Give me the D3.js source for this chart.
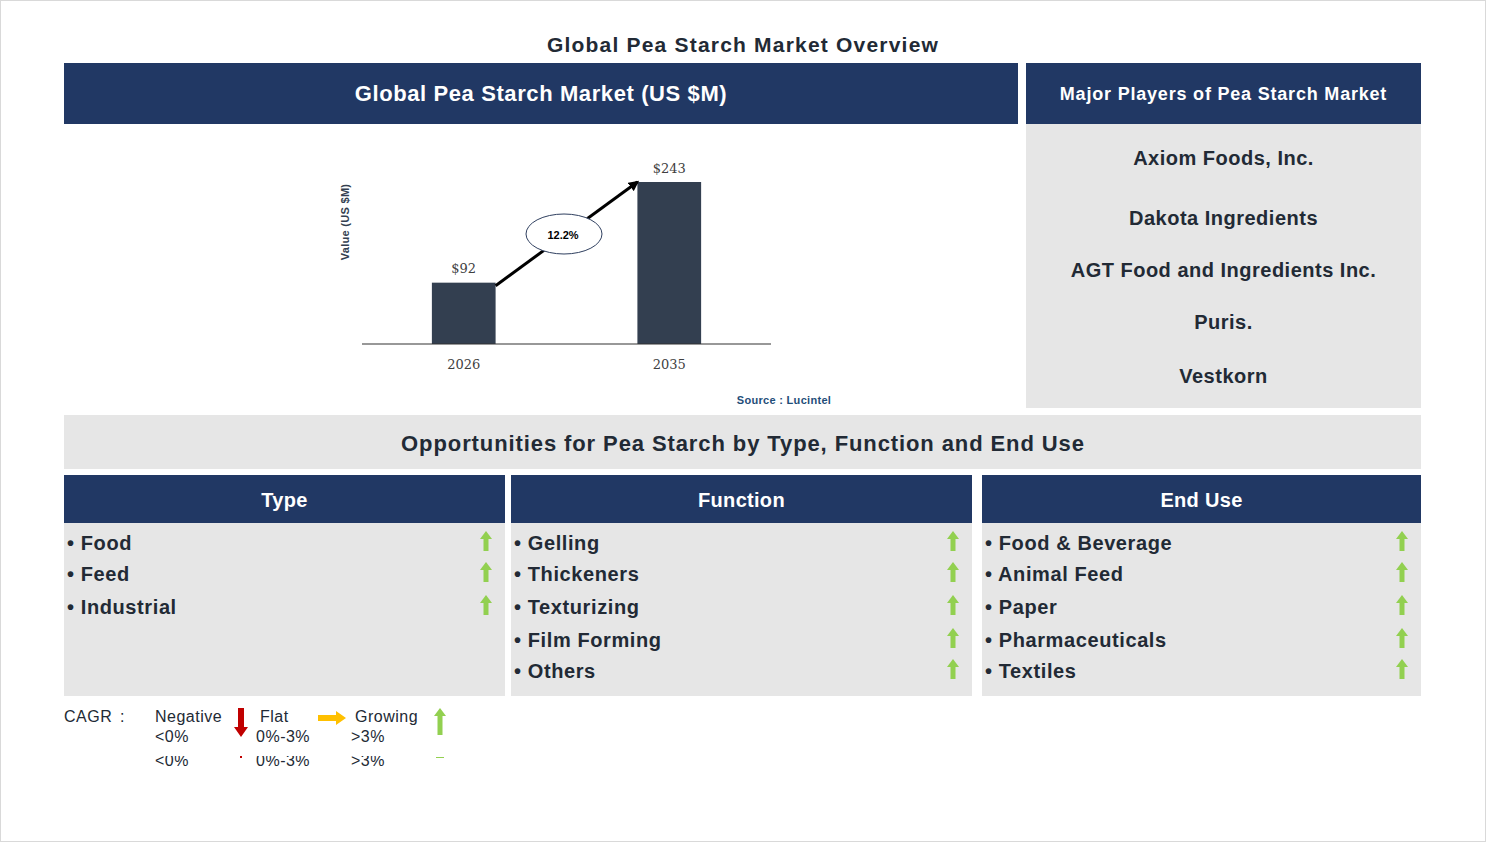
<!DOCTYPE html>
<html>
<head>
<meta charset="utf-8">
<script src="https://cdn.jsdelivr.net/npm/d3@7/dist/d3.min.js"></script>
<style>
  body { margin: 0; background: #fff; }
  svg { display: block; font-family: "Liberation Sans", Arial, sans-serif; }
</style>
</head>
<body>
<div id="chart"></div>
<script>
// chart values
const years = ['2026', '2035'];
const values = [92, 243];
const cagrLabel = '12.2%';

const players = ['Axiom Foods, Inc.', 'Dakota Ingredients', 'AGT Food and Ingredients Inc.', 'Puris.', 'Vestkorn'];

const segments = ['Type', 'Function', 'End Use'];
const typeItems = ['Food', 'Feed', 'Industrial'];
const functionItems = ['Gelling', 'Thickeners', 'Texturizing', 'Film Forming', 'Others'];
const endUseItems = ['Food & Beverage', 'Animal Feed', 'Paper', 'Pharmaceuticals', 'Textiles'];

const legendNames = ['Negative', 'Flat', 'Growing'];
const legendRanges = ['<0%', '0%-3%', '>3%'];

const W = 1486, H = 842;
const navy = '#213864';
const grey = '#e6e6e6';
const ink = '#222a35';

const svg = d3.select('#chart').append('svg')
    .attr('width', W)
    .attr('height', H);

svg.append('rect')
    .attr('x', 0.5).attr('y', 0.5)
    .attr('width', W - 1).attr('height', H - 1)
    .attr('fill', '#fff')
    .attr('stroke', '#d9d9d9');

// main title
svg.append('text')
    .attr('x', 743).attr('y', 44)
    .attr('text-anchor', 'middle')
    .attr('dominant-baseline', 'central')
    .style('font-size', '21px')
    .style('font-weight', 'bold')
    .style('letter-spacing', '1.2px')
    .attr('fill', ink)
    .text('Global Pea Starch Market Overview');

// header boxes
const header = (x, y, w, h, label, size, spacing) => {
    svg.append('rect').attr('x', x).attr('y', y).attr('width', w).attr('height', h).attr('fill', navy);
    svg.append('text')
        .attr('x', x + w / 2).attr('y', y + h / 2)
        .attr('text-anchor', 'middle')
        .attr('dominant-baseline', 'central')
        .attr('fill', '#fff')
        .style('font-size', size)
        .style('font-weight', 'bold')
        .style('letter-spacing', spacing)
        .text(label);
};
header(64, 63, 954, 61, 'Global Pea Starch Market (US $M)', '22px', '0.6px');
header(1026, 63, 395, 61, 'Major Players of Pea Starch Market', '18px', '0.8px');

// players panel
svg.append('rect').attr('x', 1026).attr('y', 124).attr('width', 395).attr('height', 284).attr('fill', grey);
const playerY = d3.scaleOrdinal().domain(players).range([158, 218, 270, 322, 376]);
svg.selectAll('.player')
    .data(players)
    .enter()
    .append('text')
    .classed('player', true)
    .attr('x', 1223.5)
    .attr('y', d => playerY(d))
    .attr('text-anchor', 'middle')
    .attr('dominant-baseline', 'central')
    .attr('fill', ink)
    .style('font-size', '20px')
    .style('font-weight', 'bold')
    .style('letter-spacing', '0.5px')
    .text(d => d);

// bar chart
const chart = svg.append('g');
const xScale = d3.scaleBand()
    .domain(years)
    .range([362, 771])
    .paddingInner(0.69)
    .paddingOuter(0.34);
const yScale = d3.scaleLinear()
    .domain([0, 243])
    .range([344, 182]);

chart.selectAll('.bar')
    .data(years)
    .enter()
    .append('rect')
    .classed('bar', true)
    .attr('x', d => xScale(d))
    .attr('y', (d, i) => yScale(values[i]))
    .attr('width', xScale.bandwidth())
    .attr('height', (d, i) => yScale(0) - yScale(values[i]))
    .attr('fill', '#333f50');

chart.selectAll('.bar-label')
    .data(years)
    .enter()
    .append('text')
    .classed('bar-label', true)
    .attr('x', d => xScale(d) + xScale.bandwidth() / 2)
    .attr('y', (d, i) => yScale(values[i]) - 14)
    .attr('text-anchor', 'middle')
    .attr('dominant-baseline', 'central')
    .attr('fill', '#404040')
    .style('font-family', '"DejaVu Serif", serif')
    .style('font-size', '13px')
    .text((d, i) => '$' + values[i]);

const xAxis = d3.axisBottom(xScale).tickSize(0).tickPadding(16);
const gx = chart.append('g')
    .attr('transform', `translate(0,${yScale(0)})`)
    .call(xAxis);
gx.select('.domain').attr('stroke', '#333').attr('stroke-width', 1.2).attr('d', 'M362,0H771');
gx.selectAll('text')
    .attr('fill', '#404040')
    .style('font-family', '"DejaVu Serif", serif')
    .style('font-size', '13px');

chart.append('text')
    .attr('transform', `translate(349,222) rotate(-90)`)
    .attr('text-anchor', 'middle')
    .attr('fill', '#333f50')
    .style('font-size', '11px')
    .style('font-weight', 'bold')
    .style('letter-spacing', '0.3px')
    .text('Value (US $M)');

// growth arrow
svg.append('defs').append('marker')
    .attr('id', 'head')
    .attr('viewBox', '0 0 10 10')
    .attr('refX', 8).attr('refY', 5)
    .attr('markerWidth', 3.5).attr('markerHeight', 3.5)
    .attr('orient', 'auto')
    .append('path')
    .attr('d', 'M0,0L10,5L0,10z')
    .attr('fill', '#000');

const x0 = xScale(years[0]) + xScale.bandwidth(), y0 = yScale(values[0]) + 3;
const x1 = xScale(years[1]), y1 = yScale(values[1]);
chart.append('line')
    .attr('x1', x0).attr('y1', y0)
    .attr('x2', x1).attr('y2', y1)
    .attr('stroke', '#000')
    .attr('stroke-width', 3)
    .attr('marker-end', 'url(#head)');

chart.append('ellipse')
    .attr('cx', 564).attr('cy', 234)
    .attr('rx', 38).attr('ry', 20)
    .attr('fill', '#fff')
    .attr('stroke', '#2f3f5f')
    .attr('stroke-width', 1);
chart.append('text')
    .attr('x', 563).attr('y', 235)
    .attr('text-anchor', 'middle')
    .attr('dominant-baseline', 'central')
    .style('font-size', '11px')
    .style('font-weight', 'bold')
    .attr('fill', '#000')
    .text(cagrLabel);

svg.append('text')
    .attr('x', 784).attr('y', 400)
    .attr('text-anchor', 'middle')
    .attr('dominant-baseline', 'central')
    .attr('fill', '#1f4e79')
    .style('font-size', '11px')
    .style('font-weight', 'bold')
    .style('letter-spacing', '0.3px')
    .text('Source : Lucintel');

// opportunities banner
svg.append('rect').attr('x', 64).attr('y', 415).attr('width', 1357).attr('height', 54).attr('fill', grey);
svg.append('text')
    .attr('x', 743).attr('y', 443)
    .attr('text-anchor', 'middle')
    .attr('dominant-baseline', 'central')
    .attr('fill', ink)
    .style('font-size', '22px')
    .style('font-weight', 'bold')
    .style('letter-spacing', '0.9px')
    .text('Opportunities for Pea Starch by Type, Function and End Use');

// up arrow shape
const upArrow = (g, cx, top, h, color) => {
    const p = d3.path();
    p.moveTo(cx, top);
    p.lineTo(cx + 6, top + 8);
    p.lineTo(cx + 2.5, top + 8);
    p.lineTo(cx + 2.5, top + h);
    p.lineTo(cx - 2.5, top + h);
    p.lineTo(cx - 2.5, top + 8);
    p.lineTo(cx - 6, top + 8);
    p.closePath();
    g.append('path').attr('d', p.toString()).attr('fill', color);
};

const columns = [
    { name: segments[0], items: typeItems, x: 64, w: 441 },
    { name: segments[1], items: functionItems, x: 511, w: 461 },
    { name: segments[2], items: endUseItems, x: 982, w: 439 }
];
const rowY = d3.scaleOrdinal().domain(d3.range(5)).range([543, 574, 607, 640, 671]);

columns.forEach(col => {
    svg.append('rect').attr('x', col.x).attr('y', 475).attr('width', col.w).attr('height', 48).attr('fill', navy);
    svg.append('text')
        .attr('x', col.x + col.w / 2).attr('y', 500)
        .attr('text-anchor', 'middle')
        .attr('dominant-baseline', 'central')
        .attr('fill', '#fff')
        .style('font-size', '20px')
        .style('font-weight', 'bold')
        .style('letter-spacing', '0.3px')
        .text(col.name);
    svg.append('rect').attr('x', col.x).attr('y', 523).attr('width', col.w).attr('height', 173).attr('fill', grey);

    const g = svg.append('g');
    g.selectAll('.item')
        .data(col.items)
        .enter()
        .append('text')
        .classed('item', true)
        .attr('x', col.x + 3)
        .attr('y', (d, i) => rowY(i))
        .attr('dominant-baseline', 'central')
        .attr('fill', ink)
        .style('font-size', '20px')
        .style('font-weight', 'bold')
        .style('letter-spacing', '0.6px')
        .text(d => '\u2022 ' + d);
    col.items.forEach((d, i) => upArrow(g, col.x + col.w - 19, rowY(i) - 12, 20, '#92d050'));
});

// CAGR legend
const lg = svg.append('g').style('font-size', '16px').style('letter-spacing', '0.5px').attr('fill', ink);
lg.append('text').attr('x', 64).attr('y', 716).attr('dominant-baseline', 'central').text('CAGR');
lg.append('text').attr('x', 120).attr('y', 716).attr('dominant-baseline', 'central').text(':');
const legX = [155, 260, 355];
const rangeX = [155, 256, 351];
legendNames.forEach((n, i) => {
    lg.append('text').attr('x', legX[i]).attr('y', 716).attr('dominant-baseline', 'central').text(n);
    lg.append('text').attr('x', rangeX[i]).attr('y', 736).attr('dominant-baseline', 'central').text(legendRanges[i]);
});
// red down arrow
const down = d3.path();
down.moveTo(241, 737); down.lineTo(248, 727); down.lineTo(244, 727); down.lineTo(244, 708);
down.lineTo(238, 708); down.lineTo(238, 727); down.lineTo(234, 727); down.closePath();
lg.append('path').attr('d', down.toString()).attr('fill', '#c00000');
// yellow right arrow
const right = d3.path();
right.moveTo(346, 718); right.lineTo(336, 711); right.lineTo(336, 715); right.lineTo(318, 715);
right.lineTo(318, 721); right.lineTo(336, 721); right.lineTo(336, 725); right.closePath();
lg.append('path').attr('d', right.toString()).attr('fill', '#ffc000');
upArrow(lg, 440, 708, 27, '#92d050');

// clipped ghost row seen under the legend
svg.append('clipPath').attr('id', 'ghost').append('rect').attr('x', 0).attr('y', 756).attr('width', 500).attr('height', 10);
const ghost = svg.append('g').attr('clip-path', 'url(#ghost)').style('font-size', '16px').style('letter-spacing', '0.5px').attr('fill', ink);
legendRanges.forEach((r, i) => {
    ghost.append('text').attr('x', rangeX[i]).attr('y', 760).attr('dominant-baseline', 'central').text(r);
});
ghost.append('rect').attr('x', 240).attr('y', 756).attr('width', 2).attr('height', 2).attr('fill', '#c00000');
ghost.append('rect').attr('x', 436).attr('y', 757).attr('width', 8).attr('height', 1).attr('fill', '#92d050');
</script>
</body>
</html>
